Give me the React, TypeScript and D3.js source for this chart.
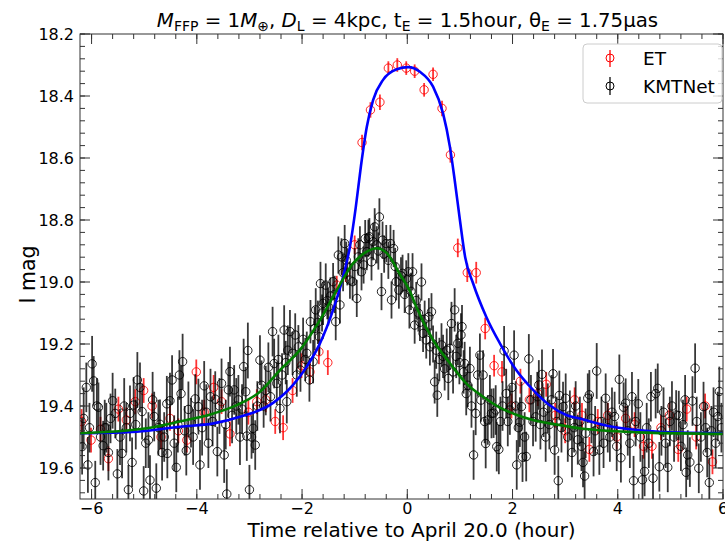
import React from "react";
import * as d3 from "d3";

// ET data: [time (hour), I mag, error]
const etData: [number, number, number][] = [
  [-6.19, 19.45, 0.04], [-6.01, 19.51, 0.04], [-5.83, 19.475, 0.04], [-5.68, 19.57, 0.04],
  [-5.49, 19.41, 0.04], [-5.34, 19.445, 0.04], [-5.17, 19.386, 0.04], [-5.01, 19.35, 0.04],
  [-4.85, 19.40, 0.04], [-4.68, 19.50, 0.04], [-4.51, 19.44, 0.04], [-4.35, 19.48, 0.04],
  [-4.19, 19.51, 0.04], [-4.01, 19.29, 0.04], [-3.86, 19.42, 0.04], [-3.68, 19.34, 0.04],
  [-3.53, 19.386, 0.04], [-3.37, 19.49, 0.04], [-3.02, 19.42, 0.04], [-2.86, 19.386, 0.04],
  [-2.69, 19.38, 0.04], [-2.51, 19.45, 0.04], [-2.36, 19.47, 0.04], [-2.18, 19.35, 0.04],
  [-2.01, 19.27, 0.04], [-1.85, 19.29, 0.04], [-1.68, 19.225, 0.04], [-1.51, 19.26, 0.04],
  [-1.34, 19.01, 0.03], [-1.17, 18.97, 0.03], [-1.00, 18.88, 0.03], [-0.86, 18.55, 0.025],
  [-0.70, 18.445, 0.025], [-0.52, 18.42, 0.025], [-0.36, 18.31, 0.022], [-0.19, 18.30, 0.022],
  [-0.02, 18.31, 0.022], [0.14, 18.32, 0.022], [0.32, 18.38, 0.022], [0.49, 18.33, 0.022],
  [0.66, 18.44, 0.025], [0.82, 18.59, 0.025], [0.96, 18.89, 0.03], [1.14, 18.97, 0.03],
  [1.31, 18.97, 0.035], [1.48, 19.15, 0.035], [1.65, 19.27, 0.035], [1.80, 19.29, 0.035],
  [1.98, 19.40, 0.04], [2.15, 19.32, 0.04], [2.32, 19.38, 0.04], [2.48, 19.36, 0.04],
  [2.64, 19.33, 0.04], [2.81, 19.43, 0.04], [3.00, 19.48, 0.04], [3.18, 19.38, 0.04],
  [3.32, 19.43, 0.04], [3.46, 19.54, 0.04], [3.62, 19.45, 0.04], [3.81, 19.43, 0.04],
  [3.98, 19.50, 0.04], [4.15, 19.44, 0.04], [4.32, 19.46, 0.04], [4.49, 19.53, 0.04],
  [4.65, 19.53, 0.04], [4.82, 19.47, 0.04], [4.98, 19.43, 0.04], [5.15, 19.54, 0.04],
  [5.31, 19.41, 0.04], [5.49, 19.50, 0.04], [5.66, 19.40, 0.04], [5.80, 19.58, 0.04],
];

// KMTNet data: [time (hour), I mag, error]
const kmtData: [number, number, number][] = [
  [-6.18, 19.531, 0.09], [-6.15, 19.44, 0.10], [-6.10, 19.34, 0.08], [-6.07, 19.59, 0.09],
  [-6.04, 19.47, 0.08], [-5.99, 19.264, 0.09], [-5.96, 19.319, 0.08], [-5.93, 19.647, 0.07],
  [-5.90, 19.40, 0.09], [-5.87, 19.404, 0.08], [-5.83, 19.50, 0.09], [-5.78, 19.528, 0.08],
  [-5.75, 19.47, 0.09], [-5.72, 19.47, 0.08], [-5.68, 19.55, 0.09], [-5.64, 19.44, 0.08],
  [-5.60, 19.383, 0.09], [-5.55, 19.424, 0.08], [-5.51, 19.619, 0.08], [-5.46, 19.50, 0.09],
  [-5.42, 19.553, 0.08], [-5.38, 19.40, 0.09], [-5.34, 19.47, 0.08], [-5.30, 19.67, 0.08],
  [-5.27, 19.424, 0.09], [-5.23, 19.582, 0.08], [-5.20, 19.397, 0.09], [-5.16, 19.46, 0.08],
  [-5.13, 19.316, 0.09], [-5.08, 19.34, 0.08], [-5.04, 19.418, 0.09], [-5.01, 19.674, 0.08],
  [-4.97, 19.52, 0.08], [-4.92, 19.51, 0.09], [-4.89, 19.639, 0.08], [-4.84, 19.38, 0.09],
  [-4.81, 19.434, 0.08], [-4.77, 19.665, 0.08], [-4.73, 19.47, 0.09], [-4.70, 19.459, 0.08],
  [-4.66, 19.55, 0.09], [-4.62, 19.50, 0.08], [-4.57, 19.393, 0.09], [-4.56, 19.553, 0.08],
  [-4.51, 19.383, 0.09], [-4.47, 19.316, 0.08], [-4.43, 19.52, 0.09], [-4.39, 19.598, 0.08],
  [-4.36, 19.46, 0.09], [-4.33, 19.30, 0.08], [-4.30, 19.36, 0.09], [-4.27, 19.257, 0.09],
  [-4.23, 19.48, 0.08], [-4.20, 19.544, 0.08], [-4.16, 19.411, 0.09], [-4.11, 19.454, 0.08],
  [-4.07, 19.50, 0.09], [-4.03, 19.377, 0.08], [-3.97, 19.402, 0.09], [-3.94, 19.59, 0.08],
  [-3.90, 19.47, 0.09], [-3.86, 19.335, 0.08], [-3.82, 19.42, 0.09], [-3.78, 19.52, 0.08],
  [-3.74, 19.37, 0.09], [-3.70, 19.45, 0.08], [-3.65, 19.378, 0.09], [-3.61, 19.547, 0.08],
  [-3.57, 19.40, 0.09], [-3.53, 19.327, 0.08], [-3.48, 19.558, 0.09], [-3.45, 19.46, 0.08],
  [-3.43, 19.684, 0.08], [-3.40, 19.348, 0.09], [-3.37, 19.289, 0.08], [-3.33, 19.43, 0.09],
  [-3.29, 19.348, 0.08], [-3.25, 19.40, 0.09], [-3.21, 19.38, 0.08], [-3.18, 19.50, 0.09],
  [-3.14, 19.41, 0.08], [-3.11, 19.273, 0.09], [-3.07, 19.354, 0.08], [-3.05, 19.497, 0.08],
  [-3.03, 19.221, 0.09], [-3.00, 19.67, 0.08], [-2.96, 19.50, 0.07], [-2.93, 19.472, 0.08],
  [-2.89, 19.526, 0.08], [-2.85, 19.40, 0.08], [-2.80, 19.252, 0.08], [-2.77, 19.333, 0.08],
  [-2.73, 19.40, 0.07], [-2.69, 19.35, 0.08], [-2.64, 19.275, 0.08], [-2.60, 19.37, 0.08],
  [-2.56, 19.16, 0.08], [-2.53, 19.263, 0.08], [-2.48, 19.327, 0.07], [-2.45, 19.25, 0.08],
  [-2.42, 19.408, 0.08], [-2.38, 19.30, 0.07], [-2.34, 19.155, 0.08], [-2.31, 19.26, 0.07],
  [-2.29, 19.386, 0.07], [-2.27, 19.22, 0.08], [-2.23, 19.16, 0.07], [-2.18, 19.23, 0.07],
  [-2.13, 19.171, 0.07], [-2.10, 19.30, 0.07], [-2.07, 19.209, 0.07], [-2.03, 19.284, 0.07],
  [-1.98, 19.185, 0.07], [-1.94, 19.25, 0.07], [-1.91, 19.23, 0.07], [-1.86, 19.316, 0.07],
  [-1.84, 19.128, 0.07], [-1.79, 19.257, 0.07], [-1.76, 19.15, 0.07], [-1.74, 19.09, 0.07],
  [-1.70, 19.13, 0.07], [-1.67, 19.177, 0.06], [-1.65, 19.005, 0.07], [-1.62, 19.10, 0.06],
  [-1.60, 19.069, 0.07], [-1.55, 19.01, 0.07], [-1.52, 19.06, 0.06], [-1.50, 19.08, 0.06],
  [-1.46, 19.045, 0.06], [-1.41, 18.999, 0.06], [-1.38, 19.04, 0.06], [-1.36, 19.128, 0.06],
  [-1.31, 18.913, 0.06], [-1.28, 19.074, 0.06], [-1.25, 18.919, 0.06], [-1.22, 18.97, 0.06],
  [-1.19, 18.876, 0.06], [-1.16, 18.93, 0.06], [-1.14, 18.951, 0.06], [-1.09, 18.994, 0.06],
  [-1.04, 18.999, 0.06], [-1.00, 18.95, 0.06], [-0.96, 19.053, 0.06], [-0.93, 18.919, 0.06],
  [-0.90, 18.88, 0.06], [-0.87, 18.967, 0.06], [-0.83, 18.945, 0.06], [-0.80, 18.86, 0.06],
  [-0.77, 18.902, 0.06], [-0.74, 18.859, 0.06], [-0.72, 18.854, 0.06], [-0.68, 18.935, 0.06],
  [-0.65, 18.87, 0.06], [-0.62, 18.822, 0.06], [-0.58, 18.88, 0.06], [-0.55, 18.90, 0.06],
  [-0.53, 18.79, 0.06], [-0.49, 19.031, 0.06], [-0.47, 18.865, 0.06], [-0.44, 18.91, 0.06],
  [-0.40, 18.876, 0.06], [-0.36, 18.93, 0.06], [-0.32, 18.876, 0.06], [-0.30, 19.058, 0.06],
  [-0.26, 18.892, 0.06], [-0.23, 18.95, 0.06], [-0.21, 18.999, 0.06], [-0.16, 19.026, 0.06],
  [-0.12, 18.98, 0.06], [-0.09, 18.972, 0.06], [-0.05, 19.04, 0.06], [-0.02, 18.99, 0.06],
  [0.02, 18.967, 0.06], [0.04, 19.09, 0.06], [0.07, 19.03, 0.06], [0.10, 18.967, 0.06],
  [0.14, 19.139, 0.06], [0.17, 19.06, 0.06], [0.21, 19.10, 0.06], [0.24, 19.13, 0.06],
  [0.27, 19.0, 0.06], [0.30, 19.166, 0.06], [0.33, 19.12, 0.06], [0.36, 19.187, 0.06],
  [0.41, 19.112, 0.06], [0.43, 19.209, 0.06], [0.46, 19.096, 0.06], [0.49, 19.20, 0.06],
  [0.52, 19.322, 0.07], [0.55, 19.22, 0.06], [0.57, 19.365, 0.07], [0.61, 19.25, 0.07],
  [0.65, 19.203, 0.07], [0.68, 19.24, 0.07], [0.71, 19.28, 0.07], [0.75, 19.22, 0.07],
  [0.78, 19.311, 0.07], [0.81, 19.214, 0.07], [0.84, 19.134, 0.07], [0.87, 19.29, 0.07],
  [0.90, 19.09, 0.07], [0.93, 19.24, 0.07], [0.96, 19.198, 0.07], [0.99, 19.26, 0.07],
  [1.02, 19.171, 0.07], [1.04, 19.144, 0.07], [1.07, 19.29, 0.07], [1.09, 19.263, 0.07],
  [1.12, 19.36, 0.07], [1.15, 19.333, 0.07], [1.19, 19.279, 0.07], [1.22, 19.40, 0.07],
  [1.26, 19.558, 0.08], [1.30, 19.424, 0.07], [1.34, 19.30, 0.07], [1.38, 19.236, 0.07],
  [1.40, 19.381, 0.07], [1.44, 19.30, 0.08], [1.47, 19.45, 0.07], [1.49, 19.521, 0.08],
  [1.53, 19.445, 0.08], [1.57, 19.38, 0.08], [1.60, 19.424, 0.08], [1.64, 19.423, 0.08],
  [1.68, 19.413, 0.08], [1.70, 19.531, 0.08], [1.74, 19.54, 0.08], [1.77, 19.45, 0.08],
  [1.81, 19.40, 0.08], [1.84, 19.222, 0.08], [1.88, 19.36, 0.08], [1.91, 19.45, 0.08],
  [1.95, 19.413, 0.08], [1.99, 19.34, 0.08], [2.03, 19.236, 0.08], [2.06, 19.40, 0.08],
  [2.08, 19.59, 0.08], [2.11, 19.47, 0.08], [2.14, 19.452, 0.08], [2.17, 19.402, 0.08],
  [2.19, 19.565, 0.08], [2.23, 19.50, 0.08], [2.26, 19.563, 0.08], [2.31, 19.248, 0.08],
  [2.35, 19.38, 0.08], [2.39, 19.45, 0.08], [2.44, 19.435, 0.08], [2.47, 19.37, 0.08],
  [2.50, 19.332, 0.08], [2.53, 19.46, 0.08], [2.56, 19.298, 0.08], [2.59, 19.42, 0.08],
  [2.63, 19.50, 0.08], [2.67, 19.407, 0.08], [2.70, 19.46, 0.08], [2.74, 19.38, 0.08],
  [2.77, 19.296, 0.08], [2.80, 19.542, 0.08], [2.84, 19.45, 0.08], [2.87, 19.641, 0.08],
  [2.89, 19.366, 0.08], [2.93, 19.47, 0.08], [2.96, 19.402, 0.08], [3.01, 19.375, 0.08],
  [3.05, 19.50, 0.08], [3.09, 19.43, 0.08], [3.13, 19.55, 0.08], [3.17, 19.47, 0.08],
  [3.20, 19.40, 0.08], [3.24, 19.509, 0.08], [3.28, 19.45, 0.08], [3.31, 19.53, 0.08],
  [3.34, 19.582, 0.08], [3.37, 19.626, 0.08], [3.39, 19.488, 0.08], [3.43, 19.375, 0.08],
  [3.46, 19.364, 0.08], [3.50, 19.44, 0.08], [3.54, 19.547, 0.08], [3.57, 19.48, 0.08],
  [3.60, 19.287, 0.09], [3.65, 19.542, 0.08], [3.69, 19.45, 0.08], [3.73, 19.52, 0.08],
  [3.77, 19.375, 0.08], [3.81, 19.47, 0.08], [3.85, 19.50, 0.08], [3.89, 19.42, 0.08],
  [3.94, 19.434, 0.08], [3.98, 19.53, 0.08], [4.03, 19.314, 0.08], [4.06, 19.567, 0.08],
  [4.11, 19.404, 0.08], [4.15, 19.391, 0.08], [4.19, 19.48, 0.08], [4.23, 19.52, 0.08],
  [4.27, 19.37, 0.08], [4.30, 19.641, 0.08], [4.34, 19.45, 0.08], [4.39, 19.393, 0.08],
  [4.43, 19.50, 0.08], [4.47, 19.638, 0.08], [4.51, 19.611, 0.08], [4.55, 19.47, 0.08],
  [4.59, 19.52, 0.08], [4.63, 19.37, 0.08], [4.67, 19.633, 0.08], [4.72, 19.36, 0.08],
  [4.76, 19.343, 0.08], [4.79, 19.596, 0.08], [4.83, 19.48, 0.08], [4.87, 19.42, 0.08],
  [4.91, 19.52, 0.08], [4.95, 19.598, 0.08], [4.99, 19.45, 0.08], [5.03, 19.40, 0.08],
  [5.07, 19.50, 0.08], [5.11, 19.429, 0.08], [5.16, 19.431, 0.08], [5.20, 19.53, 0.08],
  [5.24, 19.46, 0.08], [5.28, 19.38, 0.08], [5.30, 19.614, 0.08], [5.33, 19.558, 0.08],
  [5.37, 19.581, 0.08], [5.42, 19.384, 0.08], [5.47, 19.278, 0.08], [5.50, 19.45, 0.08],
  [5.54, 19.601, 0.08], [5.58, 19.50, 0.08], [5.63, 19.402, 0.08], [5.67, 19.47, 0.08],
  [5.70, 19.55, 0.08], [5.74, 19.647, 0.08], [5.78, 19.48, 0.08], [5.82, 19.42, 0.08],
  [5.86, 19.52, 0.08], [5.90, 19.434, 0.08], [5.93, 19.353, 0.08], [5.97, 19.47, 0.08],
];

// Model curves: [time, mag]
const blueModel: [number, number][] = [
  [-6.22, 19.488], [-5.14, 19.483], [-4.32, 19.467], [-3.68, 19.456], [-3.18, 19.435],
  [-2.55, 19.39], [-2.17, 19.332], [-1.91, 19.273], [-1.66, 19.198], [-1.41, 19.09],
  [-1.22, 18.983], [-1.09, 18.886], [-0.98, 18.76], [-0.88, 18.625], [-0.77, 18.50],
  [-0.65, 18.413], [-0.46, 18.348], [-0.20, 18.314], [0.02, 18.307], [0.24, 18.322],
  [0.49, 18.37], [0.68, 18.456], [0.81, 18.564], [0.90, 18.67], [1.00, 18.80],
  [1.10, 18.92], [1.25, 19.004], [1.50, 19.112], [1.76, 19.198], [2.07, 19.284],
  [2.39, 19.348], [2.70, 19.397], [3.02, 19.429], [3.27, 19.44], [3.90, 19.467],
  [4.54, 19.48], [5.17, 19.486], [6.0, 19.488],
];
const greenModel: [number, number][] = [
  [-6.22, 19.488], [-4.95, 19.472], [-4.32, 19.45], [-3.68, 19.424], [-3.24, 19.397],
  [-2.80, 19.354], [-2.42, 19.284], [-2.04, 19.219], [-1.66, 19.123], [-1.34, 19.026],
  [-1.03, 18.94], [-0.77, 18.902], [-0.58, 18.891], [-0.39, 18.907], [-0.14, 18.975],
  [0.05, 19.03], [0.17, 19.08], [0.49, 19.187], [0.81, 19.262], [1.12, 19.327],
  [1.44, 19.37], [1.76, 19.405], [2.07, 19.428], [2.39, 19.445], [2.70, 19.456],
  [3.02, 19.465], [3.27, 19.472], [4.54, 19.486], [6.0, 19.49],
];

const xTicks = [-6, -4, -2, 0, 2, 4, 6];
const yTicks = [18.2, 18.4, 18.6, 18.8, 19.0, 19.2, 19.4, 19.6];
const xDomain: [number, number] = [-6.22, 6.0];
const yDomain: [number, number] = [18.2, 19.7];

const W = 725, H = 542;
const M = { left: 80, top: 34, right: 723, bottom: 499 };
const FONT = "'DejaVu Sans', sans-serif";

export default function App() {
  const x = d3.scaleLinear().domain(xDomain).range([M.left, M.right]);
  const y = d3.scaleLinear().domain(yDomain).range([M.top, M.bottom]);

  const xMinor = d3.range(-6.0, 6.01, 0.4).map((v) => +v.toFixed(2));
  const yMinor = d3.range(18.2, 19.701, 0.04).map((v) => +v.toFixed(2));

  const line = d3
    .line<[number, number]>()
    .x((d) => x(d[0]))
    .y((d) => y(d[1]))
    .curve(d3.curveMonotoneX);

  const tickColor = "#333";
  const subSize = 14;

  const renderSeries = (data: [number, number, number][], color: string, barOpacity: number) => (
    <g>
      {data.map((d, i) => (
        <line
          key={"b" + i}
          x1={x(d[0])}
          x2={x(d[0])}
          y1={y(d[1] - d[2])}
          y2={y(d[1] + d[2])}
          stroke={color}
          strokeOpacity={barOpacity}
          strokeWidth={1.8}
        />
      ))}
      {data.map((d, i) => (
        <circle
          key={"c" + i}
          cx={x(d[0])}
          cy={y(d[1])}
          r={4.2}
          fill="none"
          stroke={color}
          strokeOpacity={0.85}
          strokeWidth={1}
        />
      ))}
    </g>
  );

  return (
    <svg
      width={W}
      height={H}
      style={{ position: "absolute", left: 0, top: 0, background: "#fff" }}
      fontFamily={FONT}
    >
      <rect x={0} y={0} width={W} height={H} fill="#fff" />
      <defs>
        <clipPath id="plotClip">
          <rect x={M.left} y={M.top} width={M.right - M.left} height={M.bottom - M.top} />
        </clipPath>
      </defs>

      <g clipPath="url(#plotClip)">
        {renderSeries(etData, "#ff0000", 0.8)}
        {renderSeries(kmtData, "#000000", 0.78)}
        <path d={line(blueModel) || ""} fill="none" stroke="#0000ff" strokeWidth={2.6} />
        <path d={line(greenModel) || ""} fill="none" stroke="#008000" strokeWidth={2.6} />
      </g>

      {/* frame */}
      <rect
        x={M.left}
        y={M.top}
        width={M.right - M.left}
        height={M.bottom - M.top}
        fill="none"
        stroke={tickColor}
        strokeWidth={1}
      />

      {/* x ticks */}
      {xMinor.map((v, i) => (
        <g key={"xm" + i}>
          <line x1={x(v)} x2={x(v)} y1={M.bottom} y2={M.bottom - 5} stroke={tickColor} />
          <line x1={x(v)} x2={x(v)} y1={M.top} y2={M.top + 5} stroke={tickColor} />
        </g>
      ))}
      {xTicks.map((v) => (
        <g key={"xt" + v}>
          <line x1={x(v)} x2={x(v)} y1={M.bottom} y2={M.bottom - 10} stroke={tickColor} />
          <line x1={x(v)} x2={x(v)} y1={M.top} y2={M.top + 10} stroke={tickColor} />
          <text x={x(v)} y={M.bottom + 15} textAnchor="middle" fontSize={16} fill="#000">
            {v < 0 ? "\u2212" + Math.abs(v) : String(v)}
          </text>
        </g>
      ))}

      {/* y ticks */}
      {yMinor.map((v, i) => (
        <g key={"ym" + i}>
          <line x1={M.left} x2={M.left + 5} y1={y(v)} y2={y(v)} stroke={tickColor} />
          <line x1={M.right} x2={M.right - 5} y1={y(v)} y2={y(v)} stroke={tickColor} />
        </g>
      ))}
      {yTicks.map((v) => (
        <g key={"yt" + v}>
          <line x1={M.left} x2={M.left + 10} y1={y(v)} y2={y(v)} stroke={tickColor} />
          <line x1={M.right} x2={M.right - 10} y1={y(v)} y2={y(v)} stroke={tickColor} />
          <text x={M.left - 6} y={y(v) + 6} textAnchor="end" fontSize={16} fill="#000">
            {v.toFixed(1)}
          </text>
        </g>
      ))}

      {/* axis labels */}
      <text x={(M.left + M.right) / 2 + 10} y={537} textAnchor="middle" fontSize={20} fill="#000">
        Time relative to April 20.0 (hour)
      </text>
      <text
        transform={`translate(35, ${(M.top + M.bottom) / 2 + 8}) rotate(-90)`}
        textAnchor="middle"
        fontSize={20.5}
        fill="#000"
      >
        I mag
      </text>

      {/* title */}
      <text x={(M.left + M.right) / 2 + 6} y={27} textAnchor="middle" fontSize={19.8} fill="#000">
        <tspan fontStyle="italic">M</tspan>
        <tspan fontSize={subSize} dy={4}>FFP</tspan>
        <tspan dy={-4}> = 1</tspan>
        <tspan fontStyle="italic">M</tspan>
        <tspan fontSize={subSize} dy={4}>⊕</tspan>
        <tspan dy={-4}>, </tspan>
        <tspan fontStyle="italic">D</tspan>
        <tspan fontSize={subSize} dy={4}>L</tspan>
        <tspan dy={-4}> = 4kpc, t</tspan>
        <tspan fontSize={subSize} dy={4}>E</tspan>
        <tspan dy={-4}> = 1.5hour, θ</tspan>
        <tspan fontSize={subSize} dy={4}>E</tspan>
        <tspan dy={-4}> = 1.75μas</tspan>
      </text>

      {/* legend */}
      <g>
        <rect x={583} y={44} width={139} height={59} rx={4} fill="#fff" fillOpacity={0.8} stroke="#cccccc" />
        <line x1={610} x2={610} y1={50} y2={67} stroke="#ff0000" strokeOpacity={0.8} strokeWidth={1.6} />
        <circle cx={610} cy={58} r={4} fill="none" stroke="#ff0000" strokeWidth={1} />
        <text x={643} y={65} fontSize={18.5} fill="#000">ET</text>
        <line x1={610} x2={610} y1={77} y2={95} stroke="#000" strokeOpacity={0.78} strokeWidth={1.6} />
        <circle cx={610} cy={86} r={4} fill="none" stroke="#000" strokeWidth={1} />
        <text x={643} y={93} fontSize={18.5} fill="#000">KMTNet</text>
      </g>
    </svg>
  );
}
